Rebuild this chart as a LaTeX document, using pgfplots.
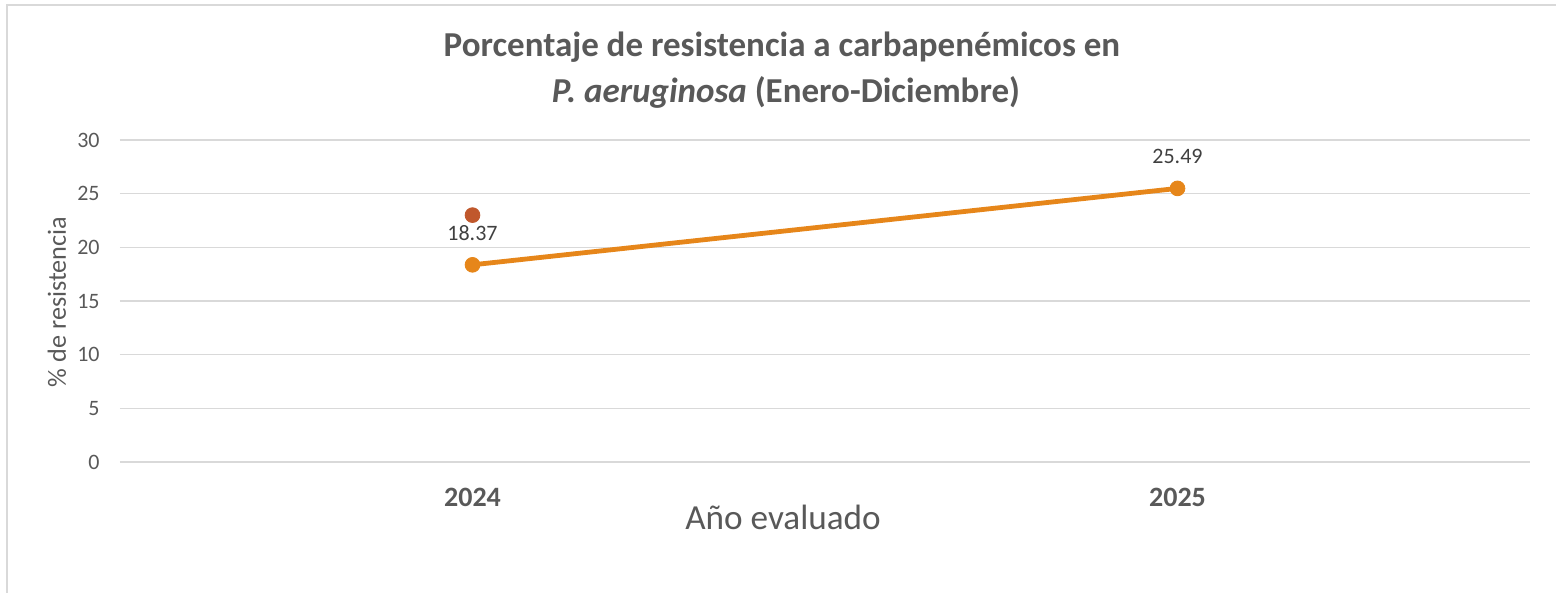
\documentclass[border=0pt]{standalone}
\usepackage{fontspec}
\setmainfont{Carlito}
\usepackage{pgfplots}
\pgfplotsset{compat=1.18}
\definecolor{linea}{HTML}{E6861A}
\definecolor{punto}{HTML}{C0582C}
\definecolor{rejilla}{HTML}{D9D9D9}
\definecolor{texto}{HTML}{595959}
\definecolor{etiqueta}{HTML}{404040}
\begin{document}
\begin{tikzpicture}
\path[use as bounding box] (-60pt,-65.5pt) rectangle (718pt,231pt);
\draw[rejilla, line width=1pt] (-56.5pt,-70pt) -- (-56.5pt,228.5pt) -- (722pt,228.5pt);
\begin{axis}[
  at={(0pt,0pt)}, anchor=south west,
  scale only axis, width=705pt, height=161pt,
  xmin=-0.5, xmax=1.5, ymin=0, ymax=30,
  xtick={0,1}, xticklabels={2024,2025},
  ytick={0,5,...,30},
  axis line style={draw=none},
  major tick length=0pt,
  ymajorgrids, grid style={rejilla, line width=0.75pt},
  tick label style={font=\fontsize{11}{13}\selectfont, text=texto},
  xticklabel style={font=\bfseries\fontsize{14}{16}\selectfont, anchor=center, yshift=-17.5pt},
  yticklabel style={anchor=east, inner sep=0pt, xshift=-10pt},
  /pgf/number format/assume math mode=true,
  clip=false,
]
\addplot[linea, line width=2.4pt, mark=*, mark size=3.7pt,
  mark options={fill=linea, draw=linea, line width=0.4pt},
  nodes near coords, point meta=explicit symbolic,
  every node near coord/.style={font=\fontsize{11}{13}\selectfont, text=etiqueta, anchor=center, yshift=16pt}]
  coordinates {(0,18.37)[18.37] (1,25.49)[25.49]};
\addplot[only marks, mark=*, mark size=3.7pt, mark options={fill=punto, draw=punto, line width=0.4pt}]
  coordinates {(0,23)};
\end{axis}
\node[font=\bfseries\fontsize{17.5}{20}\selectfont, text=texto] at (331pt,207.5pt) {Porcentaje de resistencia a carbapenémicos en};
\node[font=\bfseries\fontsize{17.5}{20}\selectfont, text=texto] at (333pt,185pt) {\textit{P. aeruginosa} (Enero-Diciembre)};
\node[font=\fontsize{17.6}{20}\selectfont, text=texto] at (331.5pt,-27.5pt) {Año evaluado};
\node[rotate=90, font=\fontsize{13.1}{15}\selectfont, text=texto] at (-31.5pt,80pt) {\% de resistencia};
\end{tikzpicture}
\end{document}
